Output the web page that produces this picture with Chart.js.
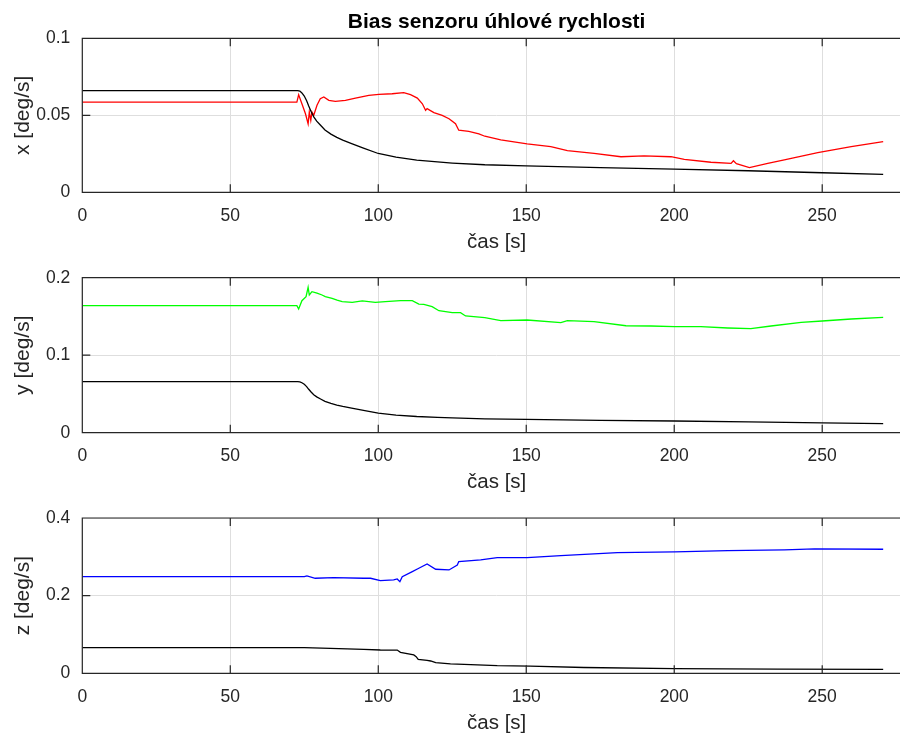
<!DOCTYPE html>
<html>
<head>
<meta charset="utf-8">
<script src="https://cdn.jsdelivr.net/npm/chart.js@4.4.1/dist/chart.umd.min.js"></script>
<style>
  html, body { margin: 0; padding: 0; background: #fff; overflow: hidden; width: 900px; height: 734px; }
  #wrap { position: relative; width: 912px; height: 734px; }
  #wrap canvas { position: absolute; left: 0; top: 0; }
</style>
</head>
<body>
<div id="wrap">
  <canvas id="chartX" width="912" height="734" style="width:912px;height:734px"></canvas>
  <canvas id="chartY" width="912" height="734" style="width:912px;height:734px"></canvas>
  <canvas id="chartZ" width="912" height="734" style="width:912px;height:734px"></canvas>
</div>
<script>
// ---- estimated gyro bias, x axis (red) ----
const tBiasX = [0, 72.5, 73.1, 74.2, 75.4, 76.3, 76.7, 77.2, 77.6, 78.2, 79.3, 80.4, 81.6, 83.3, 85.5, 88.9, 92.3, 96.8, 100.2, 104.7, 108.6, 110.9, 113.2, 114.9, 116, 116.5, 118.8, 121.6, 123.9, 126.1, 127.2, 130.6, 134, 136, 141.4, 150.3, 158.3, 163.9, 172.9, 182, 189.8, 198.9, 203.4, 212.4, 219.2, 220, 221, 225.4, 231.6, 237.2, 248.5, 259.8, 270.6];
const vBiasX = [0.0585, 0.0585, 0.0634, 0.0575, 0.051, 0.0445, 0.0521, 0.0467, 0.0521, 0.050, 0.0565, 0.0608, 0.0619, 0.0597, 0.0591, 0.0597, 0.0612, 0.063, 0.0636, 0.064, 0.0647, 0.0634, 0.0612, 0.0575, 0.0532, 0.0543, 0.0517, 0.050, 0.0478, 0.0445, 0.0403, 0.0396, 0.038, 0.0364, 0.034, 0.0314, 0.0296, 0.027, 0.0253, 0.0231, 0.0236, 0.0231, 0.0214, 0.0195, 0.0188, 0.0205, 0.0186, 0.016, 0.0188, 0.021, 0.0257, 0.0296, 0.0329];

// ---- estimated gyro bias, y axis (green) ----
const tBiasY = [0, 72.5, 73.1, 74.2, 75.6, 76.3, 76.7, 77.6, 79.3, 81, 82.1, 84.4, 86.1, 87.8, 91.2, 94.6, 99, 102.4, 107.5, 111.5, 113.7, 115.4, 118.2, 120.5, 125, 127.8, 129.5, 136, 141.4, 150.3, 161.7, 163.9, 172.9, 183.7, 192.1, 200.1, 209, 218.1, 225.9, 232.7, 242.9, 250, 259.8, 270.6];
const vBiasY = [0.164, 0.164, 0.1596, 0.1703, 0.1755, 0.1876, 0.1777, 0.182, 0.180, 0.1777, 0.1755, 0.1734, 0.171, 0.169, 0.1682, 0.170, 0.1682, 0.169, 0.1703, 0.1703, 0.166, 0.1656, 0.1626, 0.1574, 0.1549, 0.1549, 0.1506, 0.1484, 0.1445, 0.1454, 0.142, 0.1445, 0.1432, 0.138, 0.1377, 0.1368, 0.1368, 0.1351, 0.1342, 0.1377, 0.1424, 0.1441, 0.1467, 0.1489];

// ---- estimated gyro bias, z axis (blue) ----
const tBiasZ = [0, 75, 75.9, 78.7, 84.9, 95.1, 97.4, 100.7, 105.2, 106.4, 107.3, 108.1, 111.5, 113.7, 116.5, 119.4, 123.9, 126.7, 127.2, 134.6, 140.2, 150.3, 161.7, 180.8, 200.1, 218.1, 237.2, 247.4, 270.6];
const vBiasZ = [0.249, 0.249, 0.2508, 0.2448, 0.2465, 0.2448, 0.2448, 0.2387, 0.2405, 0.243, 0.236, 0.249, 0.262, 0.2705, 0.2817, 0.268, 0.2662, 0.279, 0.2877, 0.292, 0.298, 0.298, 0.303, 0.311, 0.3126, 0.316, 0.3178, 0.3204, 0.3195];

// ---- estimate uncertainty (black), shared by x and y ----
const tSigmaXY = [0, 72.8, 73.5, 74.2, 75, 75.8, 76.5, 77.3, 78.2, 79.2, 80.5, 82, 84, 86, 88, 91, 95, 100, 106, 113, 120, 125, 136, 150, 175, 200, 225, 250, 270.6];
const vSigmaXY = [0.066, 0.066, 0.0657, 0.0645, 0.0625, 0.0595, 0.056, 0.0525, 0.049, 0.0462, 0.0435, 0.0405, 0.0378, 0.0357, 0.0339, 0.0316, 0.0287, 0.0252, 0.0228, 0.0209, 0.0197, 0.019, 0.0179, 0.0172, 0.016, 0.0151, 0.014, 0.0127, 0.0117];

// ---- estimate uncertainty (black), z ----
const tSigmaZ = [0, 75, 83.8, 95.1, 100.7, 106.4, 107.5, 112, 112.8, 113.5, 116.5, 117.7, 119.4, 124.4, 129, 140.2, 151.3, 169.5, 200.1, 235, 270.6];
const vSigmaZ = [0.066, 0.066, 0.0644, 0.0618, 0.060, 0.0598, 0.054, 0.0472, 0.043, 0.036, 0.0335, 0.0317, 0.0273, 0.0245, 0.0232, 0.0196, 0.0185, 0.015, 0.012, 0.0108, 0.0103];

// ---- axis settings ----
const timeTicks = [0, 50, 100, 150, 200, 250];
const timeMax = 280;
const yTicksX = [0, 0.05, 0.1];
const yTicksY = [0, 0.1, 0.2];
const yTicksZ = [0, 0.2, 0.4];

const FONT = '"Liberation Sans", Arial, Helvetica, sans-serif';
const AXIS_COLOR = '#262626';
const GRID_COLOR = '#dedede';

function toPoints(t, v) {
  return t.map((x, i) => ({ x: x, y: v[i] }));
}

// MATLAB-like axes box with inward tick marks
const axesBox = {
  id: 'axesBox',
  afterDraw(chart) {
    const { ctx, chartArea: a } = chart;
    const xs = chart.scales.x, ys = chart.scales.y;
    const len = 8;
    ctx.save();
    ctx.strokeStyle = AXIS_COLOR;
    ctx.lineWidth = 1.2;
    ctx.beginPath();
    ctx.rect(a.left, a.top, a.right - a.left, a.bottom - a.top);
    xs.ticks.forEach(tk => {
      const px = xs.getPixelForValue(tk.value);
      ctx.moveTo(px, a.bottom); ctx.lineTo(px, a.bottom - len);
      ctx.moveTo(px, a.top); ctx.lineTo(px, a.top + len);
    });
    ys.ticks.forEach(tk => {
      const py = ys.getPixelForValue(tk.value);
      ctx.moveTo(a.left, py); ctx.lineTo(a.left + len, py);
      ctx.moveTo(a.right, py); ctx.lineTo(a.right - len, py);
    });
    ctx.stroke();
    ctx.restore();
  }
};

function makeChart(id, opts) {
  const yTicks = opts.yTicks;
  return new Chart(document.getElementById(id), {
    type: 'line',
    data: {
      datasets: opts.series.map(s => ({
        data: toPoints(s.t, s.v),
        borderColor: s.color,
        borderWidth: 1.3,
        pointRadius: 0,
        tension: 0,
        fill: false
      }))
    },
    options: {
      responsive: false,
      animation: false,
      parsing: false,
      layout: { padding: { top: opts.padTop, bottom: opts.padBottom, left: 0, right: 1 } },
      plugins: {
        legend: { display: false },
        tooltip: { enabled: false },
        title: opts.title ? {
          display: true,
          text: opts.title,
          fullSize: false,
          color: '#000',
          font: { family: FONT, size: 21, weight: 'bold' },
          padding: { top: 10, bottom: 3.1 }
        } : { display: false }
      },
      scales: {
        x: {
          type: 'linear',
          min: 0,
          max: timeMax,
          afterFit: s => { s.height = 60; },
          afterBuildTicks: s => { s.ticks = timeTicks.map(v => ({ value: v })); },
          ticks: {
            includeBounds: false,
            color: AXIS_COLOR,
            padding: 13,
            font: { family: FONT, size: 17.5 },
            callback: v => String(v)
          },
          grid: { color: GRID_COLOR, lineWidth: 1, drawTicks: false },
          border: { display: false },
          title: {
            display: true,
            text: 'čas [s]',
            color: AXIS_COLOR,
            font: { family: FONT, size: 20.5 },
            padding: { top: 0, bottom: -2.3 }
          }
        },
        y: {
          type: 'linear',
          min: yTicks[0],
          max: yTicks[yTicks.length - 1],
          afterFit: s => { s.width = 82.3; },
          afterBuildTicks: s => { s.ticks = yTicks.map(v => ({ value: v })); },
          ticks: {
            color: AXIS_COLOR,
            padding: 12,
            font: { family: FONT, size: 17.5 },
            callback: v => String(+v.toFixed(3))
          },
          grid: { color: GRID_COLOR, lineWidth: 1, drawTicks: false },
          border: { display: false },
          title: {
            display: true,
            text: opts.yTitle,
            color: AXIS_COLOR,
            font: { family: FONT, size: 21 },
            padding: { top: 11, bottom: 0 }
          }
        }
      }
    },
    plugins: [axesBox]
  });
}

makeChart('chartX', {
  title: 'Bias senzoru úhlové rychlosti',
  yTitle: 'x [deg/s]',
  yTicks: yTicksX,
  padTop: 0,
  padBottom: 734 - 192.3 - 60,
  series: [
    { t: tSigmaXY, v: vSigmaXY, color: '#000000' },
    { t: tBiasX, v: vBiasX, color: '#ff0000' }
  ]
});

makeChart('chartY', {
  yTitle: 'y [deg/s]',
  yTicks: yTicksY,
  padTop: 277.7,
  padBottom: 734 - 432.7 - 60,
  series: [
    { t: tSigmaXY, v: vSigmaXY, color: '#000000' },
    { t: tBiasY, v: vBiasY, color: '#00ff00' }
  ]
});

makeChart('chartZ', {
  yTitle: 'z [deg/s]',
  yTicks: yTicksZ,
  padTop: 518,
  padBottom: 734 - 673.3 - 60,
  series: [
    { t: tSigmaZ, v: vSigmaZ, color: '#000000' },
    { t: tBiasZ, v: vBiasZ, color: '#0000ff' }
  ]
});
</script>
</body>
</html>
